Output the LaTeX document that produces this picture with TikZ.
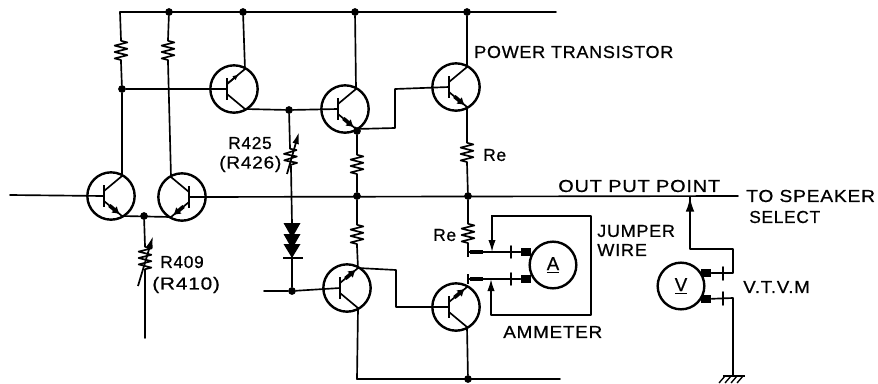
\documentclass[tikz,border=0pt]{standalone}
\usepackage{graphicx}
\usepackage{fontspec}
\setmainfont[LetterSpace=4,FakeBold=0.6]{Liberation Sans}
\usetikzlibrary{calc,arrows.meta,decorations.pathmorphing}
\tikzset{
  wire/.style={line width=1.25pt,line cap=round,line join=round},
  disc/.style={circle,draw,line width=1.8pt,inner sep=0pt,minimum size=#1},
  disc/.default=47,
  dot/.style={circle,fill,inner sep=0pt,minimum size=5.8pt},
  res/.style={decorate,decoration={zigzag,segment length=4.8pt,amplitude=4.8pt,pre length=.6pt,post length=.6pt},line width=1.4pt},
  blob/.style={line width=2.8pt,-{Latex[length=5.5pt,width=6.5pt]}},
  tip/.style={-{Latex[length=9pt,width=5.5pt]},line width=1.25pt},
  block/.style={rectangle,fill,inner sep=0pt,minimum width=8pt,minimum height=6.6pt},
  lab/.style={inner sep=0pt,font=\fontsize{13}{13}\selectfont,anchor=west},
  x=.75pt,y=-.75pt
}
% name, x, y, side(+1 base on left, -1 base on right)
\newcommand\Tr[4]{%
  \node[disc=35.5pt] (#1) at (#2,#3) {};
  \coordinate (#1-bt) at ({#2-7*#4},{#3-11});
  \coordinate (#1-bb) at ({#2-7*#4},{#3+11});
  \coordinate (#1-b) at ({#2-7*#4},#3);
  \coordinate (#1-us) at ({#2-7*#4},{#3-5});
  \coordinate (#1-ls) at ({#2-7*#4},{#3+5});
  \coordinate (#1-u) at ({#2+11*#4},{#3-20});
  \coordinate (#1-l) at ({#2+11*#4},{#3+20});
  \draw[line width=2.2pt] (#1-bt) -- (#1-bb);
  \draw[wire] (#1-us) -- (#1-u);
  \draw[wire] (#1-ls) -- (#1-l);
}
\newcommand\Emit[3]{% name, lead start, lead end
  \draw[blob] ($(#2)!.3!(#3)$) -- ($(#2)!.88!(#3)$);
}
\begin{document}
\begin{tikzpicture}
\useasboundingbox (0,0) rectangle (878,383);
% transistors
\Tr{qa}{234}{89}{1}
\Tr{qb}{111}{196}{1}
\Tr{qc}{182}{197}{-1}
\Tr{qd}{345}{109}{1}
\Tr{qe}{456}{87}{1}
\Tr{qf}{347}{288}{1}
\Tr{qg}{456}{307}{1}
\Emit{qb}{qb-ls}{qb-l}
\Emit{qc}{qc-ls}{qc-l}
\Emit{qd}{qd-ls}{qd-l}
\Emit{qe}{qe-ls}{qe-l}
\Emit{qf}{qf-us}{qf-u}
\Emit{qg}{qg-us}{qg-u}
\draw[line width=1.3pt,-{Latex[length=4.5pt,width=4pt,open]}] (qa-us) -- ($(qa-us)!.65!(qa-u)$);
% junction dots
\foreach \n/\x/\y in {ta/169/12,tb/243/12,tc/355/12,td/467/12,
  ja/122/89,jb/289/110,jc/144/216,jd/357/131,je/357/196,jf/468/196,jg/292/291,bt/468/379}
  {\node[dot] (\n) at (\x,\y) {};}
\foreach \n/\x/\y in {rl/120/12,rr/556/12,in/10/195,oe/738/196,lb/264/291,
  bl/357/379,br/560/379,wb/145/338,
  ra1/121/40,ra2/121/62,rb1/168/40,rb2/168/62,
  rc1/357/154,rc2/357/175,rd1/357/224,rd2/357/246,
  re1/467/142,re2/467/163,rf1/468/223,rf2/468/245,
  va1/145/246,va2/145/272,vb1/290/148,vb2/291/168,
  da/292/224,db/292/241,dc/292/258,
  ea/395/128,eb/395/89,fa/396/270,fb/396/307,
  ja1/468/252,jb1/468/279,pa/492/252,pb/491/279,
  ua/492/216,ub/591/216,uc/591/315,ud/491/315,
  xa/690/197,xb/690/249,xc/733/249,xd/733/273,xe/733/298,xf/733/376,xg/690/218}
  {\coordinate (\n) at (\x,\y);}
% rails
\draw[wire] (rl) -- (rr);
\draw[wire] (bl) -- (br);
\draw[wire] (in) -- (qb-b);
\draw[wire] (qc-b) -- (oe);
\draw[wire] (qb-l) -- (qc-l);
% resistors
\draw[wire] (rl) -- (ra1) decorate[res]{-- (ra2)} -- (ja) -- (qb-u);
\draw[wire] (ta) -- (rb1) decorate[res]{-- (rb2)} -- (qc-u);
\draw[wire] (ja) -- (qa-b);
\draw[wire] (tb) -- (qa-u);
\draw[wire] (qa-l) -- (jb) -- (qd-b);
\draw[wire] (tc) -- (qd-u);
\draw[wire] (td) -- (qe-u);
\draw[wire] (qd-l) -- (jd) -- (rc1) decorate[res]{-- (rc2)} -- (je) -- (rd1) decorate[res]{-- (rd2)} -- (qf-u);
\draw[wire] (qd-l) -- (ea) -- (eb) -- (qe-b);
\draw[wire] (qe-l) -- (re1) decorate[res]{-- (re2)} -- (jf) -- (rf1) decorate[res]{-- (rf2)} -- (ja1);
\draw[wire] (qf-u) -- (fa) -- (fb) -- (qg-b);
\draw[wire] (qf-l) -- (bl);
\draw[wire] (qg-l) -- (bt);
% variable resistors
\draw[wire] (jc) -- (va1) decorate[res]{-- (va2)} -- (wb);
\draw[line width=1.3pt,-{Latex[length=9pt,width=5pt]}] (138,286) -- (153,236);
\draw[wire] (jb) -- (vb1) decorate[res]{-- (vb2)} -- (da);
\draw[line width=1.3pt,-{Latex[length=9pt,width=5pt]}] (287,174) -- (299,132);
% diodes
\foreach \ya/\yb in {223/238,234/249,244/258}
  {\fill (283.5,\ya) -- (300.5,\ya) -- (292,\yb) -- cycle;}
\draw[line width=1.5pt] (283,258) -- (303,258);
\draw[wire] (da) -- (dc) -- (jg);
\draw[wire] (lb) -- (jg) -- (qf-b);
% ammeter
\node[disc=35pt] (am) at (553,265) {};
\node[inner sep=0,font=\fontsize{14}{14}\selectfont] at (am) {\underline{A}};
\node[block] (ba) at (526,252) {};
\node[block] (bb) at (526,279) {};
\draw[wire] (ja1) -- (ba);
\draw[wire] (jb1) -- (bb);
\draw[line width=1.5pt] (468,247) -- (468,257);
\draw[line width=1.5pt] (468,274) -- (468,284);
\draw[line width=2.6pt] (470,252) -- (483,252);
\draw[line width=2.6pt] (470,279) -- (483,279);
\draw[wire] (511,246) -- (511,258);
\draw[wire] (511,273) -- (511,285);
\draw[tip] (ub) -- (ua) -- (pa);
\draw[wire] (ub) -- (uc) -- (ud);
\draw[tip] (ud) -- (pb);
% voltmeter
\node[disc=35pt] (vm) at (681,286) {};
\node[inner sep=0,font=\fontsize{14}{14}\selectfont] at (vm) {\underline{V}};
\node[block] (bc) at (706,273) {};
\node[block] (bd) at (706,299) {};
\draw[wire] (bc) -- (xd) -- (xc) -- (xb) -- (xa);
\draw[wire] (bd) -- (xe) -- (xf);
\draw[wire] (723,267) -- (723,280);
\draw[wire] (723,292) -- (723,305);
\draw[line width=1.6pt,-{Latex[length=11pt,width=6.5pt]}] (xg) -- (xa);
% ground
\draw[line width=1.6pt] (xf-|723,0) -- (745,376);
\foreach \g in {725,731,737,743}{\draw[line width=1pt] (\g,376) -- ({\g-6},383);}
% labels
\node[lab] (t1) at (474,52) {\scalebox{1.04}[1]{POWER TRANSISTOR}};
\node[lab] (t2) at (558,186) {\scalebox{1.15}[1]{OUT PUT POINT}};
\node[lab] (t3) at (746,196) {\scalebox{1.11}[1]{TO SPEAKER}};
\node[lab] (t4) at (749,217) {SELECT};
\node[lab] (t5) at (597,231) {\scalebox{1.04}[1]{JUMPER}};
\node[lab] (t6) at (597,250) {\scalebox{1.05}[1]{WIRE}};
\node[lab] (t7) at (503,332) {\scalebox{1.09}[1]{AMMETER}};
\node[lab] (t8) at (743,287) {\scalebox{1.08}[1]{V.T.V.M}};
\node[lab] (t9) at (160,262) {R409};
\node[lab] (t10) at (152,285) {\scalebox{1.2}[1]{(R410)}};
\node[lab] (t11) at (228,143) {R425};
\node[lab] (t12) at (219,164) {\scalebox{1.1}[1]{(R426)}};
\node[lab] (t13) at (483,155) {Re};
\node[lab] (t14) at (433,235) {Re};
\end{tikzpicture}
\end{document}
